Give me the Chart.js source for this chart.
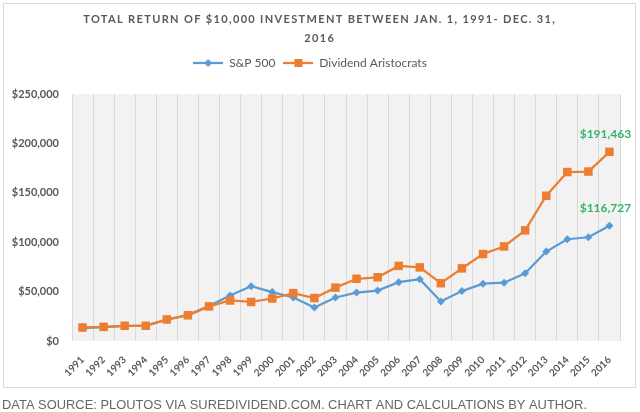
<!DOCTYPE html>
<html>
<head>
<meta charset="utf-8">
<script src="https://cdn.jsdelivr.net/npm/chart.js@4/dist/chart.umd.min.js"></script>
<style>
  html, body { margin: 0; padding: 0; background: #fff; }
  #wrap { width: 640px; height: 412px; }
</style>
</head>
<body>
<div id="wrap"><canvas id="returns" width="640" height="412"></canvas></div>
<script>
// values
const years = ["1991", "1992", "1993", "1994", "1995", "1996", "1997", "1998", "1999", "2000",
  "2001", "2002", "2003", "2004", "2005", "2006", "2007", "2008", "2009", "2010",
  "2011", "2012", "2013", "2014", "2015", "2016"];
const sp500 = [13000, 14000, 15400, 15600, 21500, 26500, 35300, 46000, 55500, 49500,
  44000, 34000, 44000, 49000, 51000, 59500, 62500, 40000, 50500, 58000,
  59000, 68500, 90500, 103000, 105000, 116727];
const aristocrats = [13700, 14300, 15400, 15400, 21800, 26000, 35000, 41000, 39500, 43000,
  48500, 43500, 54000, 63000, 64500, 76000, 74500, 58500, 73500, 88000,
  95700, 112000, 147000, 171000, 171500, 191463];
const yTicks = [0, 50000, 100000, 150000, 200000, 250000];
const endLabels = ["$116,727", "$191,463"];
const titleLines = ["TOTAL RETURN OF $10,000 INVESTMENT BETWEEN JAN. 1, 1991- DEC. 31,", "2016"];
const footerText = "DATA SOURCE: PLOUTOS VIA SUREDIVIDEND.COM. CHART AND CALCULATIONS BY AUTHOR.";

const BLUE = "#5b9bd5";
const ORANGE = "#ed7d31";
const GREY = "#595959";
const GREEN = "#35b36b";

function legendIcon(color, style) {
  let c = document.createElement("canvas");
  c.width = 30;
  c.height = 12;
  let g = c.getContext("2d");
  g.strokeStyle = color;
  g.lineWidth = 2.25;
  g.beginPath();
  g.moveTo(0, 6);
  g.lineTo(30, 6);
  g.stroke();
  g.fillStyle = color;
  g.beginPath();
  if (style === "diamond") {
    g.moveTo(15, 2); g.lineTo(19, 6); g.lineTo(15, 10); g.lineTo(11, 6);
  } else {
    g.rect(11, 2, 8, 8);
  }
  g.fill();
  return c;
}
const icons = [legendIcon(BLUE, "diamond"), legendIcon(ORANGE, "square")];

const decorations = {
  id: "decorations",
  beforeLayout(chart) {
    // extra space under the legend, like the Excel chart
    const lg = chart.legend;
    if (lg && !lg._padded) {
      const fit = lg.fit;
      lg.fit = function () {
        fit.call(this);
        this.height += 15;
      };
      lg._padded = true;
    }
  },
  beforeDraw(chart) {
    const ctx = chart.ctx;
    const a = chart.chartArea;
    ctx.save();
    ctx.fillStyle = "#fff";
    ctx.fillRect(0, 0, chart.width, chart.height);
    ctx.strokeStyle = "#d9d9d9";
    ctx.lineWidth = 1;
    ctx.strokeRect(3.5, 3.5, 632, 384);
    ctx.fillStyle = "#f2f2f2";
    ctx.fillRect(a.left, a.top, a.right - a.left, a.bottom - a.top);

    // title with letter spacing
    ctx.fillStyle = GREY;
    ctx.font = "bold 11px Lato";
    ctx.textAlign = "center";
    ctx.textBaseline = "middle";
    let w = ctx.measureText(titleLines[0]).width;
    let sp = Math.max(0, (473 - w) / titleLines[0].length);
    ctx.letterSpacing = sp.toFixed(2) + "px";
    ctx.fillText(titleLines[0], 319 + sp / 2, 19);
    ctx.fillText(titleLines[1], 319 + sp / 2, 38);
    ctx.letterSpacing = "0px";

    // source line under the box
    ctx.fillStyle = "#666";
    ctx.font = "13px 'Liberation Sans'";
    ctx.textAlign = "left";
    let fw = ctx.measureText(footerText).width;
    ctx.translate(2, 405);
    ctx.scale(585 / fw, 1);
    ctx.fillText(footerText, 0, 0);
    ctx.restore();
  },
  afterDatasetsDraw(chart) {
    const ctx = chart.ctx;
    ctx.save();
    ctx.font = "bold 12px Lato";
    ctx.fillStyle = GREEN;
    ctx.textAlign = "center";
    ctx.textBaseline = "middle";
    chart.data.datasets.forEach((ds, i) => {
      const meta = chart.getDatasetMeta(i);
      const pt = meta.data[meta.data.length - 1];
      ctx.fillText(endLabels[i], pt.x - 4, pt.y - 18);
    });
    ctx.restore();
  }
};

new Chart(document.getElementById("returns"), {
  type: "line",
  data: {
    labels: years,
    datasets: [
      {
        label: "S&P 500",
        data: sp500,
        borderColor: BLUE,
        backgroundColor: BLUE,
        borderWidth: 2.25,
        pointStyle: "rectRot",
        pointRadius: 4,
        pointBorderWidth: 0,
        tension: 0,
        order: 1
      },
      {
        label: "Dividend Aristocrats",
        data: aristocrats,
        borderColor: ORANGE,
        backgroundColor: ORANGE,
        borderWidth: 2.25,
        pointStyle: "rect",
        pointRadius: 6,
        pointBorderWidth: 0,
        tension: 0,
        order: 0
      }
    ]
  },
  options: {
    responsive: false,
    animation: false,
    layout: { padding: { top: 49, right: 20, left: 0, bottom: 0 } },
    plugins: {
      title: { display: false },
      tooltip: { enabled: false },
      legend: {
        position: "top",
        labels: {
          usePointStyle: true,
          pointStyleWidth: 30,
          padding: 8,
          color: GREY,
          font: { family: "Lato", size: 12 },
          sort: (a, b) => a.datasetIndex - b.datasetIndex,
          generateLabels(chart) {
            const items = Chart.defaults.plugins.legend.labels.generateLabels(chart);
            items.forEach((it) => { it.pointStyle = icons[it.datasetIndex]; });
            return items;
          }
        }
      }
    },
    scales: {
      x: {
        offset: true,
        grid: { display: true, offset: true, color: "#d9d9d9", drawTicks: false },
        border: { display: false },
        ticks: {
          autoSkip: false,
          minRotation: 45,
          maxRotation: 45,
          padding: 13,
          color: GREY,
          font: { family: "Lato", size: 10, weight: "bold" }
        },
        afterFit(scale) { scale.height = 71; }
      },
      y: {
        min: 0,
        max: 250000,
        grid: { display: false, drawTicks: false },
        border: { display: false },
        afterBuildTicks(scale) { scale.ticks = yTicks.map((v) => ({ value: v })); },
        ticks: {
          padding: 13,
          color: GREY,
          font: { family: "Lato", size: 11, weight: "bold" },
          callback: (v) => "$" + Number(v).toLocaleString("en-US")
        },
        afterFit(scale) { scale.width = 72; }
      }
    }
  },
  plugins: [decorations]
});
</script>
</body>
</html>
